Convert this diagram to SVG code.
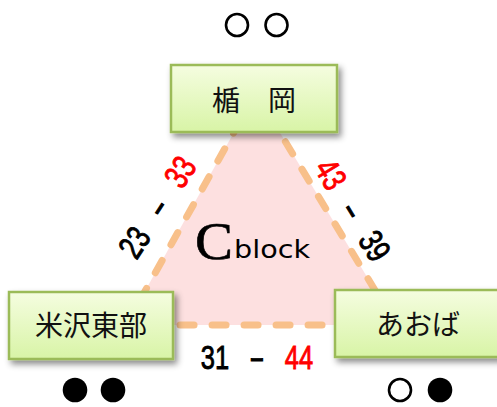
<svg xmlns="http://www.w3.org/2000/svg" width="497" height="407" viewBox="0 0 497 407">
<defs>
<linearGradient id="boxg" x1="0" y1="0" x2="0" y2="1">
<stop offset="0" stop-color="#f5fde0"/>
<stop offset="1" stop-color="#d8f4a6"/>
</linearGradient>
<filter id="sh" x="-20%" y="-20%" width="150%" height="160%">
<feDropShadow dx="3" dy="4" stdDeviation="3" flood-color="#000" flood-opacity="0.45"/>
</filter>
</defs>
<style>
.box{fill:url(#boxg);stroke:#9bbb59;stroke-width:2.5;filter:url(#sh)}
.lbl{font-family:"Noto Sans CJK JP","Noto Sans",sans-serif;font-size:28px;fill:#111;text-anchor:middle}
.num{font-family:"Liberation Sans",Arial,sans-serif;font-size:34px;text-anchor:middle;stroke-width:0.9px}
.blk{fill:#000;stroke:#000}
.red{fill:#ff0000;stroke:#ff0000}
.ring{fill:none;stroke:#000;stroke-width:2.6}
.dot{fill:#000}
.edge{fill:none;stroke:#f8c08a;stroke-width:7;stroke-linecap:round;stroke-dasharray:14 18}
</style>
<rect width="497" height="407" fill="#fff"/>
<g id="connectors">
<polygon points="256,93 126,325 396,325" fill="#fde0e0"/>
<polygon class="edge" points="256,93 126,325 396,325"/>
</g>
<g id="center-label">
<text x="195" y="258.5" font-family="'Liberation Serif','Times New Roman',serif" font-size="53" fill="#000" stroke="#000" stroke-width="0.6" textLength="38" lengthAdjust="spacingAndGlyphs">C</text>
<text x="234" y="258" font-family="'DejaVu Sans',sans-serif" font-size="25" fill="#000" textLength="76" lengthAdjust="spacingAndGlyphs">block</text>
</g>
<g id="node-tateoka">
<rect class="box" x="171" y="65" width="166" height="67"/>
<text class="lbl" x="254" y="111">楯　岡</text>
</g>
<g id="node-yonezawa">
<rect class="box" x="9" y="292" width="164" height="67"/>
<text class="lbl" x="91" y="336">米沢東部</text>
</g>
<g id="node-aoba">
<rect class="box" x="335" y="290" width="166" height="67"/>
<text class="lbl" x="418" y="335">あおば</text>
</g>
<g id="label-left" transform="translate(157,207) rotate(-57)">
<g transform="scale(0.75,1)">
<text class="num blk" x="-56" y="12">23</text>
<text class="num blk" x="0" y="12" transform="scale(1.8,1)">-</text>
<text class="num red" x="56" y="12">33</text>
</g>
</g>
<g id="label-right" transform="translate(353,210) rotate(58.5)">
<g transform="scale(0.75,1)">
<text class="num red" x="-56" y="12">43</text>
<text class="num blk" x="0" y="12" transform="scale(1.8,1)">-</text>
<text class="num blk" x="56" y="12">39</text>
</g>
</g>
<g id="label-bottom" transform="translate(257,357)">
<g transform="scale(0.75,1)">
<text class="num blk" x="-56" y="12">31</text>
<text class="num blk" x="0" y="12" transform="scale(1.8,1)">-</text>
<text class="num red" x="56" y="12">44</text>
</g>
</g>
<g id="marks">
<circle class="ring" cx="237" cy="25" r="11"/>
<circle class="ring" cx="276.5" cy="25" r="11"/>
<circle class="dot" cx="75" cy="390" r="12.3"/>
<circle class="dot" cx="113" cy="390" r="12.3"/>
<circle class="ring" cx="400" cy="390" r="11"/>
<circle class="dot" cx="440" cy="390" r="12.3"/>
</g>
</svg>
